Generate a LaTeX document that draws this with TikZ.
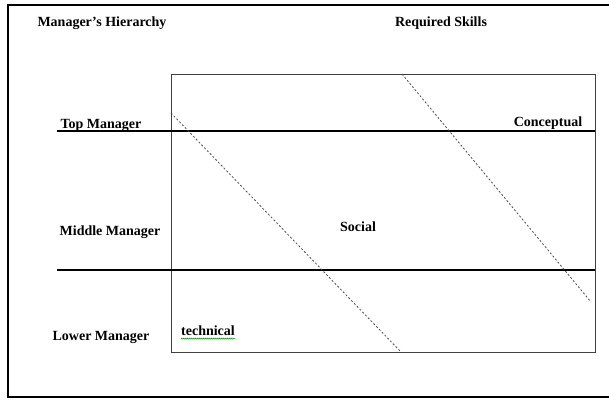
\documentclass[tikz,border=0pt]{standalone}
\usepackage{fontspec}
\setmainfont{Liberation Serif}
\usetikzlibrary{decorations.pathmorphing}

\begin{document}
\begin{tikzpicture}[x=1pt,y=-1pt,
    lbl/.style={font=\bfseries\fontsize{14}{16}\selectfont, inner sep=0pt},
    level/.style={line width=1.4pt},
    skill/.style={line width=0.8pt, black!70, dash pattern=on 2pt off 2pt}]
        \useasboundingbox (0,0) rectangle (609,399);
        \draw[line width=1.6pt] (610,5) -- (8,5) -- (8,397) -- (610,397);
        \draw[line width=0.9pt, black!75] (171,74) rectangle (595,352);
        \draw[level] (57,131) -- (595,131);
        \draw[level] (57,270) -- (595,270);
        \draw[skill] (171,113) -- (401,352);
        \draw[skill] (402,74) -- (591,302);
        \node[lbl] (hier) at (102,23) {Manager's Hierarchy};
        \node[lbl] (req) at (441,23) {Required Skills};
        \node[lbl] (top) at (101,125) {Top Manager};
        \node[lbl] (mid) at (110,232) {Middle Manager};
        \node[lbl] (low) at (101,337) {Lower Manager};
        \node[lbl] (concept) at (548,123) {Conceptual};
        \node[lbl] (social) at (358,227) {Social};
        \node[lbl] (tech) at (208,331) {technical};
        \draw[green!60!black, line width=0.4pt, decorate, decoration={snake, amplitude=0.6pt, segment length=2pt}] ([yshift=-2.5pt]tech.south west) -- ([yshift=-2.5pt]tech.south east);
      \end{tikzpicture}
\end{document}
